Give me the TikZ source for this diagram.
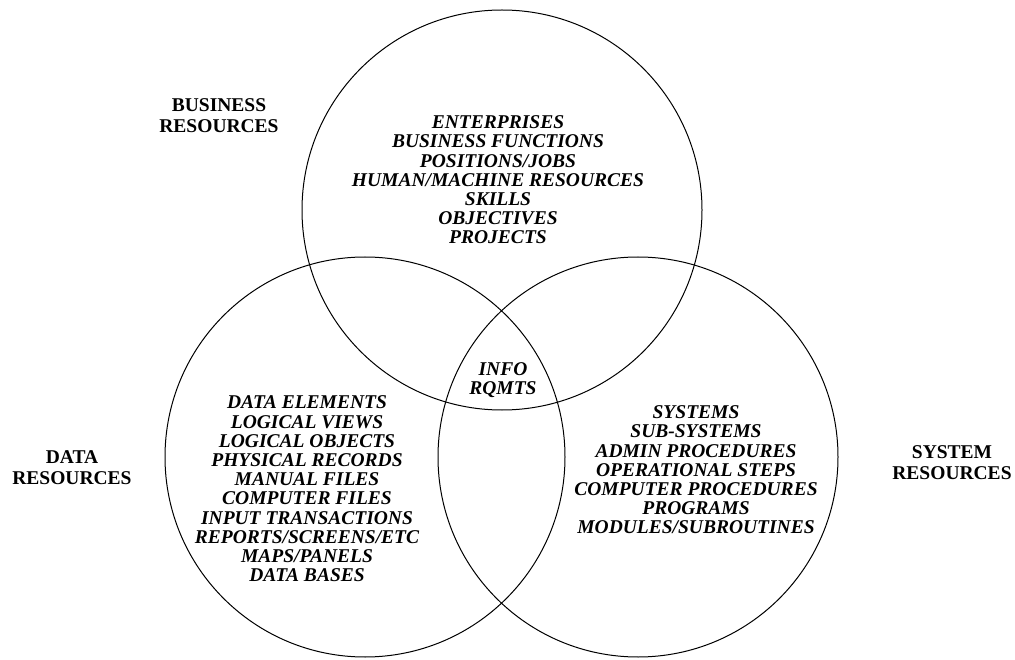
\documentclass[tikz,border=0pt]{standalone}
\usepackage{fontspec}
\setmainfont{Liberation Serif}
\begin{document}
\begin{tikzpicture}[x=1pt,y=-1pt,
  ring/.style={draw=black,line width=1pt},
  intext/.style={align=center,font=\fontsize{19.5}{19.2}\selectfont\bfseries\itshape,inner sep=0pt},
  lbl/.style={align=center,font=\fontsize{19.5}{21}\selectfont\bfseries,inner sep=0pt}]
\useasboundingbox (0,0) rectangle (1015,660);
\coordinate (ct) at (502,210);
\coordinate (cl) at (365,457);
\coordinate (cr) at (638,457);
\draw[ring] (ct) circle[radius=200];
\draw[ring] (cl) circle[radius=200];
\draw[ring] (cr) circle[radius=200];
\node[intext] (biz) at (498,180) {ENTERPRISES\\BUSINESS FUNCTIONS\\POSITIONS/JOBS\\HUMAN/MACHINE RESOURCES\\SKILLS\\OBJECTIVES\\PROJECTS};
\node[intext] (data) at (307,489) {DATA ELEMENTS\\LOGICAL VIEWS\\LOGICAL OBJECTS\\PHYSICAL RECORDS\\MANUAL FILES\\COMPUTER FILES\\INPUT TRANSACTIONS\\REPORTS/SCREENS/ETC\\MAPS/PANELS\\DATA BASES};
\node[intext] (sys) at (696,470) {SYSTEMS\\SUB-SYSTEMS\\ADMIN PROCEDURES\\OPERATIONAL STEPS\\COMPUTER PROCEDURES\\PROGRAMS\\MODULES/SUBROUTINES};
\node[intext] (info) at (503,380) {INFO\\RQMTS};
\node[lbl] (lbiz) at (219,116) {BUSINESS\\RESOURCES};
\node[lbl] (ldata) at (72,468) {DATA\\RESOURCES};
\node[lbl] (lsys) at (952,463) {SYSTEM\\RESOURCES};
\end{tikzpicture}
\end{document}
